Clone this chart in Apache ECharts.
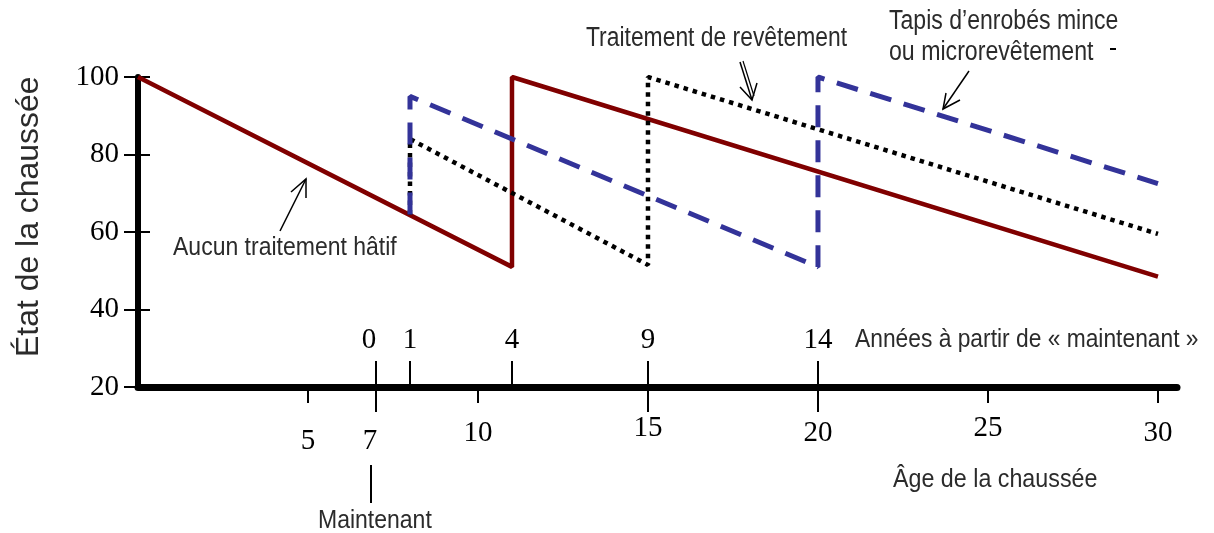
<!DOCTYPE html>
<html>
<head>
<meta charset="utf-8">
<script src="https://cdn.jsdelivr.net/npm/echarts@6/dist/echarts.min.js"></script>
<style>
    html, body { margin: 0; padding: 0; background: #fff; }
    #main { width: 1214px; height: 533px; }
</style>
</head>
<body>
<div id="main"></div>
<script>
// axe du bas : âge de la chaussée
var ageLabels = [5, 7, 10, 15, 20, 25, 30];
var ageShortTicks = [5, 10, 25, 30];
var ageLongTicks = [7, 15, 20];
// axe "années à partir de maintenant" (positions en âge)
var nowTicks = [7, 8, 11, 15, 20];
var nowLabels = ['0', '1', '4', '9', '14'];

// courbes [âge, état]
var noTreatment = [[0, 100], [11, 51], [11, 100], [30, 48.5]];
var surfaceTreatment = [[8, 64.5], [8, 84], [15, 51.5], [15, 100], [30, 59.5]];
var thinOverlay = [[8, 64.5], [8, 95], [20, 51], [20, 100], [30, 72.5]];

var SERIF = '"Liberation Serif", "DejaVu Serif", serif';
var SANS = '"Liberation Sans", Arial, sans-serif';
var TXT = '#2b2b2b';

var chart = echarts.init(document.getElementById('main'));

function baseX(extra) {
    var ax = {
        type: 'value',
        min: 0,
        max: 30.56,
        position: 'bottom',
        splitLine: { show: false },
        axisLine: { show: false },
        axisTick: { show: false },
        axisLabel: { show: false }
    };
    for (var k in extra) ax[k] = extra[k];
    return ax;
}

// texte condensé (pas de police étroite installée : on écrase en largeur)
function label(text, x, y, size, sx, extra) {
    var g = {
        type: 'text', x: x, y: y, scaleX: sx,
        style: { text: text, font: size + 'px ' + SANS, fill: TXT, verticalAlign: 'middle' }
    };
    for (var k in extra) g[k] = extra[k];
    return g;
}

function num(style) {
    var s = { fontFamily: SERIF, fontSize: 29, color: '#000' };
    for (var k in style) s[k] = style[k];
    return s;
}

var option = {
    animation: false,
    backgroundColor: '#fff',
    grid: { left: 138, right: 37, top: 77, bottom: 146 },
    xAxis: [
        baseX({
            axisLine: { show: true, onZero: false, lineStyle: { color: '#000', width: 7 } },
            axisTick: { show: true, customValues: ageShortTicks, length: 16, lineStyle: { color: '#000', width: 2 } },
            axisLabel: {
                show: true,
                customValues: ageLabels,
                margin: 27,
                color: '#000',
                fontFamily: SERIF,
                fontSize: 29,
                formatter: function (v) {
                    if (v === 5) return '{lo|5}';
                    if (v === 7) return '{sev|7}';
                    if (v === 15 || v === 25) return '{hi|' + v + '}';
                    return '{n|' + v + '}';
                },
                rich: {
                    n: num({ padding: [5, 0, 0, 0] }),
                    lo: num({ padding: [13, 0, 0, 0] }),
                    sev: num({ padding: [13, 12, 0, 0] }),
                    hi: num({})
                }
            }
        }),
        baseX({
            axisTick: { show: true, customValues: ageLongTicks, length: 25, lineStyle: { color: '#000', width: 2 } }
        }),
        baseX({
            axisTick: { show: true, inside: true, customValues: nowTicks, length: 26, lineStyle: { color: '#000', width: 2 } },
            axisLabel: {
                show: true,
                inside: true,
                customValues: nowTicks,
                margin: 32,
                color: '#000',
                fontFamily: SERIF,
                fontSize: 29,
                formatter: function (v) {
                    var i = nowTicks.indexOf(v);
                    return i === 0 ? '{z|' + nowLabels[i] + '}' : nowLabels[i];
                },
                rich: {
                    z: num({ padding: [0, 14, 0, 0] })
                }
            }
        })
    ],
    yAxis: [
        {
            type: 'value',
            min: 20,
            max: 100,
            interval: 20,
            splitLine: { show: false },
            axisLine: { show: true, onZero: false, lineStyle: { color: '#000', width: 6 } },
            axisTick: { show: true, length: 14, lineStyle: { color: '#000', width: 2 } },
            axisLabel: { margin: 19, color: '#000', fontFamily: SERIF, fontSize: 29 }
        },
        {
            type: 'value',
            min: 20,
            max: 100,
            interval: 20,
            position: 'left',
            splitLine: { show: false },
            axisLine: { show: false },
            axisTick: { show: true, inside: true, length: 12, lineStyle: { color: '#000', width: 2 } },
            axisLabel: { show: false }
        }
    ],
    series: [
        {
            name: 'Aucun traitement hâtif',
            type: 'line',
            data: noTreatment,
            symbol: 'none',
            z: 2,
            lineStyle: { color: '#800000', width: 4.5, cap: 'butt' }
        },
        {
            name: 'Traitement de revêtement',
            type: 'line',
            data: surfaceTreatment,
            symbol: 'none',
            z: 3,
            lineStyle: { color: '#000', width: 4.5, type: [4.5, 5], cap: 'butt' }
        },
        {
            name: 'Tapis d’enrobés mince ou microrevêtement',
            type: 'line',
            data: thinOverlay,
            symbol: 'none',
            z: 4,
            lineStyle: { color: '#333399', width: 5, type: [22, 13], cap: 'butt' }
        }
    ],
    graphic: [
        // titre axe y
        label('État de la chaussée', 29, 357, 31, 1.03, { rotation: Math.PI / 2 }),
        // textes
        label('Aucun traitement hâtif', 173, 248, 25, 0.92),
        label('Traitement de revêtement', 586, 39, 27, 0.847),
        label('Tapis d’enrobés mince', 889, 22, 27, 0.854),
        label('ou microrevêtement', 889, 53, 27, 0.857),
        label('Années à partir de « maintenant »', 855, 340, 26, 0.877),
        label('Âge de la chaussée', 893, 480, 26, 0.895),
        label('Maintenant', 318, 521, 25, 0.92),
        // petit trait sous "Maintenant"
        { type: 'line', shape: { x1: 371, y1: 465, x2: 371, y2: 503 }, style: { stroke: '#000', lineWidth: 2 } },
        // tiret isolé
        { type: 'line', shape: { x1: 1110, y1: 49, x2: 1116, y2: 49 }, style: { stroke: '#000', lineWidth: 2 } },
        // flèches
        { type: 'polyline', shape: { points: [[280, 231], [306, 179]] }, style: { stroke: '#000', lineWidth: 1.5, fill: null } },
        { type: 'polyline', shape: { points: [[291, 192], [306, 179], [306, 198]] }, style: { stroke: '#000', lineWidth: 1.5, fill: null } },
        { type: 'polyline', shape: { points: [[740, 62], [752, 100]] }, style: { stroke: '#000', lineWidth: 1.5, fill: null } },
        { type: 'polyline', shape: { points: [[743, 61], [754, 96]] }, style: { stroke: '#000', lineWidth: 1.2, fill: null } },
        { type: 'polyline', shape: { points: [[740, 87], [752, 100], [757, 83]] }, style: { stroke: '#000', lineWidth: 1.5, fill: null } },
        { type: 'polyline', shape: { points: [[969, 71], [943, 109]] }, style: { stroke: '#000', lineWidth: 1.5, fill: null } },
        { type: 'polyline', shape: { points: [[946, 93], [943, 109], [960, 100]] }, style: { stroke: '#000', lineWidth: 1.5, fill: null } }
    ]
};

chart.setOption(option);
window.addEventListener('resize', function () {
    chart.resize();
});
</script>
</body>
</html>
